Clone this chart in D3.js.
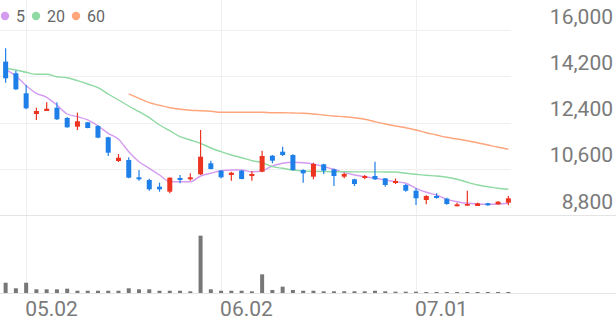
<!DOCTYPE html>
<html><head><meta charset="utf-8">
<script src="https://cdn.jsdelivr.net/npm/d3@7"></script>
<style>
html,body{margin:0;padding:0;background:#fff;}
svg{display:block;font-family:Roboto,"Noto Sans",sans-serif;}
</style></head>
<body><svg id="c" width="616" height="321"></svg>
<script>
const dates = ["04.29","04.30","05.02","05.07","05.08","05.09","05.12","05.13","05.14","05.15","05.16","05.19","05.20","05.21","05.22","05.23","05.26","05.27","05.28","05.29","05.30","06.02","06.04","06.05","06.09","06.10","06.11","06.12","06.13","06.16","06.17","06.18","06.19","06.20","06.23","06.24","06.25","06.26","06.27","06.30","07.01","07.02","07.03","07.04","07.07","07.08","07.09","07.10","07.11","07.14"];
const open  = [14770,14315,13537,12731,12848,12976,12575,12237,12408,12264,11824,10902,10941,10267,10162,9902,9707,10240,10189,10384,10812,10524,10357,10524,10318,10485,11108,11264,11135,10551,10292,10773,10578,10292,10189,10240,10318,10228,10045,9968,9746,9384,9540,9435,9139,9162,9150,9255,9216,9279];
const high  = [15290,14416,13860,12976,13186,13186,12614,12782,12420,12303,11848,11174,11046,10551,10213,10057,10267,10357,10422,12108,10914,10551,10485,10551,10512,11303,11135,11458,11160,10578,10836,10797,10603,10446,10213,10357,10875,10240,10221,10006,9839,9567,9645,9473,9279,9746,9279,9279,9333,9540];
const low   = [13950,13665,12914,12497,12848,12497,12198,12108,12175,11785,11096,10863,10228,10135,9746,9707,9645,10034,10135,10357,10578,10228,10135,10189,10135,10460,10812,11096,10524,10057,10189,10396,9929,10228,9929,10189,10162,9902,10006,9707,9189,9216,9435,9201,9139,9162,9150,9162,9201,9177];
const close = [14120,13692,12953,12848,12937,12525,12213,12447,12186,11809,11225,11030,10252,10189,9800,9800,10252,10162,10267,11069,10590,10267,10446,10201,10396,11096,10914,11135,10551,10422,10785,10524,10318,10396,10006,10318,10189,9968,10123,9746,9450,9540,9462,9228,9216,9228,9255,9177,9318,9450];
const volume = [181,83,181,65,65,65,76,40,40,40,40,40,83,65,65,40,40,40,30,1009,65,40,40,40,30,329,53,111,53,40,40,30,30,30,30,30,40,30,23,23,23,18,18,18,18,18,18,18,18,18];
const ma5  = [14471,14210,13833,13537,13381,13081,12731,12626,12498,12264,11980,11746,11264,10875,10618,10357,10096,10096,10096,10318,10423,10524,10552,10552,10485,10524,10707,10812,10851,10836,10785,10680,10579,10447,10357,10291,10228,10162,10096,10034,9839,9684,9579,9411,9318,9255,9228,9217,9228,9255];
const ma20 = [14510,14444,14354,14276,14276,14183,14144,14027,13899,13755,13510,13276,13042,12821,12587,12303,12081,11848,11719,11591,11408,11264,11135,11030,10914,10836,10680,10618,10552,10513,10500,10490,10485,10485,10480,10480,10478,10476,10474,10423,10384,10345,10318,10267,10190,10073,9968,9902,9839,9800];
const ma60 = [null,null,null,null,null,null,null,null,null,null,null,null,13510,13342,13171,13070,12976,12914,12875,12860,12836,12797,12797,12797,12797,12797,12782,12782,12770,12758,12731,12692,12653,12626,12587,12525,12431,12342,12264,12198,12108,12003,11914,11824,11758,11692,11614,11525,11435,11357];
const yTicks = [8800,10600,12400,14200,16000];
const xTickLabels = ["05.02","06.02","07.01"];
const legendLabels = ["5","20","60"];
const maColors = ["#d49cf0","#8fd9a2","#ffa57c"];
const UP = "#ec3421", DOWN = "#1f7fe8";

const svg = d3.select("#c");
const W = 616;
const plotRight = 511;
const x = d3.scaleBand().domain(dates).range([0.5, 513.5]).padding(0);
const cx = d => x(d) + x.bandwidth()/2;
const y = d3.scaleLinear().domain([8800,16000]).range([215,30]);
const yv = d3.scaleLinear().domain([0,1250]).range([293,222]);

// grid
const g = svg.append("g");
g.selectAll(".hg").data(yTicks.filter(t=>t!==8800)).join("line")
  .attr("x1",0).attr("x2",plotRight).attr("y1",d=>Math.round(y(d))+0.5).attr("y2",d=>Math.round(y(d))+0.5)
  .attr("stroke","#f0f0f0").attr("stroke-width",1);
g.selectAll(".vg").data(xTickLabels).join("line")
  .attr("x1",d=>Math.round(cx(d))+0.5).attr("x2",d=>Math.round(cx(d))+0.5)
  .attr("y1",0).attr("y2",293).attr("stroke","#f0f0f0");
g.append("line").attr("x1",0).attr("x2",W).attr("y1",215.5).attr("y2",215.5).attr("stroke","#e4e4e4");
g.append("line").attr("x1",0).attr("x2",W).attr("y1",293.5).attr("y2",293.5).attr("stroke","#e4e4e4");

// y labels
svg.selectAll(".yl").data(yTicks).join("text")
  .attr("x",613).attr("y",d=>y(d)-6.5).attr("text-anchor","end")
  .attr("font-size",21).attr("fill","#7a7a7a").text(d=>d3.format(",")(d));

// x labels
svg.selectAll(".xl").data(xTickLabels).join("text")
  .attr("x",d=>cx(d)-1).attr("y",316).attr("text-anchor","start")
  .attr("font-size",21).attr("fill","#7a7a7a").text(d=>d);

// volume
svg.selectAll(".vb").data(dates).join("rect")
  .attr("x",d=>cx(d)-2).attr("width",4)
  .attr("y",(d,i)=>yv(volume[i])).attr("height",(d,i)=>293-yv(volume[i]))
  .attr("fill","#777");

// moving averages
const mas = [ma5, ma20, ma60];
mas.forEach((arr,k)=>{
  const line = d3.line().defined(v=>v!=null).x((v,i)=>cx(dates[i])).y(v=>y(v)).curve(d3.curveMonotoneX);
  svg.append("path").attr("d",line(arr)).attr("fill","none").attr("stroke",maColors[k]).attr("stroke-width",1.4);
});

// candles
const cg = svg.append("g");
dates.forEach((d,i)=>{
  const col = close[i] >= open[i] ? UP : DOWN;
  const xc = cx(d);
  cg.append("line").attr("x1",xc).attr("x2",xc).attr("y1",y(high[i])).attr("y2",y(low[i]))
    .attr("stroke",col).attr("stroke-width",1.2);
  const top = y(Math.max(open[i],close[i])), bot = y(Math.min(open[i],close[i]));
  cg.append("rect").attr("x",xc-2.5).attr("width",5).attr("y",top).attr("height",Math.max(bot-top,1.5)).attr("fill",col);
});

// legend
let lx = 5;
legendLabels.forEach((t,k)=>{
  svg.append("circle").attr("cx",lx).attr("cy",16).attr("r",4.2).attr("fill",maColors[k]);
  const tx = svg.append("text").attr("x",lx+11).attr("y",22).attr("font-size",16).attr("fill","#666").text(t);
  lx = lx + 11 + tx.node().getComputedTextLength() + 11;
});
</script></body></html>
